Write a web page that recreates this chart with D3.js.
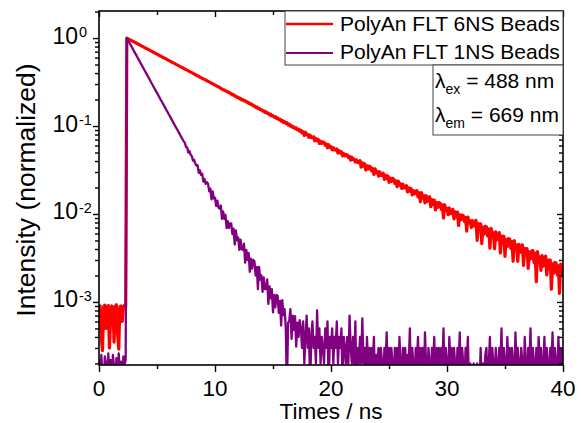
<!DOCTYPE html>
<html>
<head>
<meta charset="utf-8">
<script src="https://cdn.jsdelivr.net/npm/d3@7"></script>
<style>
  html, body { margin: 0; padding: 0; background: #fff; }
  svg { display: block; font-family: "Liberation Sans", Arial, sans-serif; }
</style>
</head>
<body>
<svg id="chart" width="581" height="423"></svg>
<script>
// Time-resolved fluorescence decays (TCSPC), normalized intensity, 0.1 ns channels.
const channelWidth = 0.1; // ns per channel, first channel at t = 0

const seriesNames = ["PolyAn FLT 6NS Beads", "PolyAn FLT 1NS Beads"];
const seriesColors = ["#ff0000", "#800080"];

// PolyAn FLT 6NS Beads (one row per ns after the pulse)
const intensity6NS = [
  8.6e-4, 9.0e-4, 4.0e-4, 2.8e-4, 8.8e-4, 9.2e-4, 5.0e-4, 8.5e-4, 9.1e-4, 3.0e-4, 6.5e-4, 9.0e-4,
  8.7e-4, 3.5e-4, 8.9e-4, 9.3e-4, 4.5e-4, 2.9e-4, 8.8e-4, 9.0e-4, 6.0e-4, 8.6e-4, 9.2e-4, 8.8e-4,
  1, .984, .968, .953, .937, .922, .907, .893, .878, .864,
  .850, .836, .823, .810, .797, .784, .771, .759, .747, .735,
  .723, .711, .700, .689, .678, .667, .656, .646, .635, .625,
  .615, .605, .595, .586, .576, .567, .558, .549, .540, .531,
  .523, .515, .506, .498, .490, .482, .474, .467, .459, .452,
  .445, .438, .431, .424, .417, .410, .404, .397, .391, .384,
  .378, .372, .366, .360, .354, .349, .343, .338, .332, .327,
  .322, .317, .312, .307, .302, .297, .292, .288, .283, .278,
  .275, .267, .265, .257, .258, .250, .249, .242, .243, .234,
  .234, .226, .227, .219, .219, .212, .212, .205, .206, .198,
  .200, .193, .194, .187, .188, .181, .182, .175, .176, .169,
  .170, .163, .165, .158, .159, .153, .154, .148, .149, .143,
  .145, .139, .140, .134, .136, .130, .131, .126, .128, .122,
  .124, .118, .120, .114, .116, .110, .112, .107, .109, .103,
  .105, .0995, .101, .0965, .0980, .0935, .0950, .0905, .0920, .0875,
  .0897, .0836, .0863, .0782, .0847, .0795, .0803, .0743, .0787, .0739,
  .0737, .0756, .0680, .0722, .0681, .0703, .0633, .0672, .0634, .0658,
  .0649, .0605, .0625, .0565, .0613, .0574, .0581, .0537, .0569, .0534,
  .0533, .0547, .0493, .0523, .0493, .0509, .0458, .0486, .0459, .0476,
  .0469, .0438, .0451, .0409, .0443, .0416, .0420, .0389, .0412, .0386,
  .0382, .0403, .0341, .0382, .0350, .0373, .0316, .0353, .0324, .0350,
  .0344, .0309, .0328, .0282, .0326, .0296, .0305, .0270, .0302, .0274,
  .0276, .0291, .0247, .0276, .0253, .0270, .0229, .0256, .0234, .0254,
  .0248, .0223, .0237, .0204, .0236, .0213, .0221, .0195, .0218, .0198,
  .0199, .0210, .0178, .0198, .0182, .0195, .0165, .0184, .0169, .0182,
  .0184, .0156, .0174, .0138, .0175, .0151, .0161, .0134, .0162, .0139,
  .0143, .0157, .0121, .0146, .0129, .0144, .0111, .0135, .0119, .0135,
  .0133, .0113, .0127, .0090, .0127, .0110, .0116, .0098, .0117, .0101,
  .0103, .0113, .0088, .0106, .0093, .0105, .0074, .0098, .0086, .0097,
  .0096, .0082, .0091, .0064, .0092, .0079, .0084, .0070, .0084, .0073,
  .00731, .00850, .00500, .00778, .00648, .00774, .00460, .00709, .00591, .00725,
  .00713, .00563, .00672, .00410, .00688, .00558, .00613, .00400, .00627, .00508,
  .00529, .00614, .00360, .00562, .00469, .00559, .00330, .00513, .00428, .00525,
  .00516, .00407, .00486, .00290, .00497, .00403, .00443, .00290, .00453, .00367,
  .00382, .00445, .00260, .00407, .00339, .00404, .00240, .00371, .00309, .00379,
  .00384, .00281, .00358, .00170, .00373, .00284, .00324, .00229, .00337, .00256,
  .00271, .00333, .00203, .00299, .00236, .00300, .00140, .00271, .00213, .00281,
  .00277, .00203, .00258, .00125, .00269, .00205, .00234
];

// PolyAn FLT 1NS Beads (one row per ns after the pulse)
const intensity1NS = [
  2.2e-4, 1.0e-4, 2.5e-4, 1.5e-4, 1.0e-4, 2.4e-4, 2.0e-4, 1.0e-4, 2.6e-4, 1.2e-4, 2.2e-4, 1.0e-4,
  2.5e-4, 1.8e-4, 1.0e-4, 2.3e-4, 1.0e-4, 2.6e-4, 1.5e-4, 2.1e-4, 1.0e-4, 2.4e-4, 1.9e-4, 2.2e-4,
  1, .946, .895, .847, .802, .759, .718, .679, .643, .608,
  .575, .544, .515, .487, .461, .436, .413, .391, .370, .350,
  .331, .313, .296, .280, .265, .251, .238, .225, .213, .201,
  .191, .181, .171, .162, .153, .145, .137, .130, .123, .116,
  .110, .104, .0984, .0932, .0882, .0835, .0790, .0747, .0707, .0669,
  .0644, .0577, .0573, .0498, .0520, .0469, .0456, .0405, .0414, .0374,
  .0355, .0359, .0293, .0314, .0278, .0286, .0233, .0250, .0220, .0229,
  .0221, .0181, .0194, .0147, .0181, .0150, .0153, .0123, .0142, .0118,
  .0115, .0125, .0088, .0107, .0088, .0098, .0069, .0083, .0069, .0078,
  .0078, .0059, .0068, .0045, .0065, .0050, .0054, .0039, .0051, .0040,
  .0039, .0046, .0028, .0039, .0030, .0036, .0022, .0031, .0024, .0030,
  .0029, .0020, .0025, .0014, .0025, .0018, .0020, .0013, .0019, .0014,
  .0014, .0018, .00095, .0015, .0011, .0014, .00076, .0012, .00087, .0012,
  .00117, .00075, .00103, .00054, .00105, .00071, .00083, .00051, .0001, .00058,
  .00061, .00083, .00038, .00070, .00048, .00069, .00031, .00058, .00040, .00062,
  .0005, .0003, .0006, .0002, .0004, .0007, .0003, .0005, .0001, .0004,
  .0006, .0003, .0004, .0002, .0008, .0003, .0005, .0002, .0004, .0003,
  .0002, .0005, .0003, .0006, .0001, .0004, .0003, .0005, .0002, .0004,
  .0003, .0006, .0002, .0004, .0003, .0005, .0001, .0004, .0003, .0002,
  .0004, .0002, .0007, .0003, .0002, .0004, .0002, .0006, .0001, .0003,
  .0002, .0004, .0002, .00065, .0002, .0003, .0001, .0004, .0002, .0003,
  .0001, .0003, .0002, .0004, .0001, .00025, .0002, .0003, .0001, .0003,
  .0002, .0001, .0003, .0002, .00045, .0001, .0003, .00015, .0003, .0002,
  .0001, .0003, .0002, .0003, .0001, .0004, .0002, .0001, .0003, .0002,
  .0003, .0001, .00025, .0002, .0005, .0001, .0003, .0002, .0001, .0003,
  .0002, .0004, .0001, .0003, .0002, .0003, .0001, .00045, .0002, .0001,
  .0003, .0002, .0001, .0003, .0002, .0004, .0001, .0003, .0002, .0003,
  .0001, .0003, .0002, .0005, .0001, .0003, .0002, .0001, .0004, .0002,
  .0003, .0001, .0003, .0002, .0001, .0003, .0002, .00045, .0001, .0003,
  .0002, .0001, .0003, .0002, .0004, .0001, .0002, .00015, .0001, .0002,
  .00015, .0001, .0002, .00015, .0001, .0003, .0001, .0002, .0001, .00025,
  .0003, .0001, .0002, .0004, .0001, .0003, .0002, .0001, .0003, .0002,
  .0001, .0003, .0002, .0005, .0001, .0003, .0002, .0001, .0004, .0002,
  .0003, .0001, .0003, .0002, .0001, .00045, .0002, .0003, .0001, .0002,
  .0003, .0002, .0001, .0004, .0002, .0001, .0003, .0002, .0005, .0001,
  .0003, .0002, .0001, .0003, .0001, .0004, .0002, .0003, .0001, .0002,
  .0004, .0001, .0003, .0002, .0001, .0003, .0002, .00045, .0001, .0003,
  .0002, .0001, .0004, .0002, .0003, .0001, .0003
];

const xMajorTicks = [0, 10, 20, 30, 40];
const xMinorTicks = [5, 15, 25, 35];
const yMajorTicks = [1, 0.1, 0.01, 0.001];
const yMajorExponents = ["0", "-1", "-2", "-3"];
const xTitle = "Times / ns";
const yTitle = "Intensity (normalized)";
const excitation = { sym: "λ", sub: "ex", rest: " = 488 nm" };
const emission = { sym: "λ", sub: "em", rest: " = 669 nm" };

const svg = d3.select("#chart");
const plot = { left: 99, right: 563, top: 11, bottom: 365 };

const x = d3.scaleLinear().domain([0, 40]).range([plot.left, plot.right]);
const y = d3.scaleLog().domain([1.92e-4, 2.03]).range([plot.bottom, plot.top]);

// minor log ticks: 2..9 per decade inside the domain
const yMinorTicks = [];
for (let e = -4; e <= 0; e++) {
  for (let m = 2; m <= 9; m++) {
    const v = m * Math.pow(10, e);
    if (v >= y.domain()[0] && v <= y.domain()[1]) yMinorTicks.push(v);
  }
}

// clip for data traces
svg.append("defs").append("clipPath").attr("id", "plotClip")
  .append("rect")
  .attr("x", plot.left).attr("y", plot.top)
  .attr("width", plot.right - plot.left).attr("height", plot.bottom - plot.top);

const line = d3.line()
  .x((d, i) => x(i * channelWidth))
  .y(d => y(d));

const traces = svg.append("g").attr("clip-path", "url(#plotClip)");
traces.append("path")
  .datum(intensity6NS)
  .attr("d", line)
  .attr("fill", "none")
  .attr("stroke", seriesColors[0])
  .attr("stroke-width", 3.2)
  .attr("stroke-linejoin", "round");
traces.append("path")
  .datum(intensity1NS)
  .attr("d", line)
  .attr("fill", "none")
  .attr("stroke", seriesColors[1])
  .attr("stroke-width", 2.3)
  .attr("stroke-linejoin", "round");

// axes
function styleAxis(g) {
  g.select(".domain").remove();
  g.selectAll(".tick line").attr("stroke", "#000").attr("stroke-width", 1.4);
  g.selectAll(".tick text").remove();
}
// bottom
svg.append("g").attr("transform", `translate(0,${plot.bottom})`)
  .call(d3.axisBottom(x).tickValues(xMajorTicks).tickSize(7)).call(styleAxis);
svg.append("g").attr("transform", `translate(0,${plot.bottom})`)
  .call(d3.axisBottom(x).tickValues(xMinorTicks).tickSize(4)).call(styleAxis);
// top (ticks inward)
svg.append("g").attr("transform", `translate(0,${plot.top})`)
  .call(d3.axisBottom(x).tickValues(xMajorTicks).tickSize(6)).call(styleAxis);
svg.append("g").attr("transform", `translate(0,${plot.top})`)
  .call(d3.axisBottom(x).tickValues(xMinorTicks).tickSize(4)).call(styleAxis);
// left
svg.append("g").attr("transform", `translate(${plot.left},0)`)
  .call(d3.axisLeft(y).tickValues(yMajorTicks).tickSize(6)).call(styleAxis);
svg.append("g").attr("transform", `translate(${plot.left},0)`)
  .call(d3.axisLeft(y).tickValues(yMinorTicks).tickSize(4)).call(styleAxis);
// right (ticks inward)
svg.append("g").attr("transform", `translate(${plot.right},0)`)
  .call(d3.axisLeft(y).tickValues(yMajorTicks).tickSize(6)).call(styleAxis);
svg.append("g").attr("transform", `translate(${plot.right},0)`)
  .call(d3.axisLeft(y).tickValues(yMinorTicks).tickSize(4)).call(styleAxis);

// frame
svg.append("rect")
  .attr("x", plot.left).attr("y", plot.top)
  .attr("width", plot.right - plot.left).attr("height", plot.bottom - plot.top)
  .attr("fill", "none").attr("stroke", "#000").attr("stroke-width", 1.6);

// x tick labels
svg.append("g").selectAll("text").data(xMajorTicks).join("text")
  .attr("x", d => x(d)).attr("y", plot.bottom + 31)
  .attr("text-anchor", "middle")
  .attr("font-size", 22.5).attr("fill", "#000")
  .text(d => d);

// y tick labels 10^n
const yLab = svg.append("g").selectAll("g").data(yMajorTicks).join("g");
yLab.append("text")
  .attr("x", 78).attr("y", d => y(d) + 5.5)
  .attr("text-anchor", "end")
  .attr("font-size", 23).attr("fill", "#000")
  .text("10");
yLab.append("text")
  .attr("x", 79).attr("y", d => y(d) - 1)
  .attr("font-size", 14.5).attr("fill", "#000")
  .text((d, i) => yMajorExponents[i]);

// axis titles
svg.append("text")
  .attr("x", (plot.left + plot.right) / 2).attr("y", 419)
  .attr("text-anchor", "middle")
  .attr("font-size", 22.5).attr("fill", "#000")
  .text(xTitle);
svg.append("text")
  .attr("transform", `translate(35,${(plot.top + plot.bottom) / 2 + 2}) rotate(-90)`)
  .attr("text-anchor", "middle")
  .attr("font-size", 26.5).attr("fill", "#000")
  .text(yTitle);

// legend box
const legend = { left: 285, top: plot.top, right: plot.right, bottom: 65 };
svg.append("rect")
  .attr("x", legend.left).attr("y", legend.top)
  .attr("width", legend.right - legend.left).attr("height", legend.bottom - legend.top)
  .attr("fill", "#fff").attr("stroke", "#444").attr("stroke-width", 1);
const legendRows = [{ lineY: 24, textY: 31 }, { lineY: 53, textY: 59 }];
legendRows.forEach((r, i) => {
  svg.append("line")
    .attr("x1", legend.left + 1).attr("x2", 333)
    .attr("y1", r.lineY).attr("y2", r.lineY)
    .attr("stroke", seriesColors[i]).attr("stroke-width", i === 0 ? 2.6 : 2);
  svg.append("text")
    .attr("x", 340).attr("y", r.textY)
    .attr("font-size", 21).attr("fill", "#000")
    .text(seriesNames[i]);
});

// wavelength box
const info = { left: 433, top: 65, right: plot.right, bottom: 135 };
svg.append("rect")
  .attr("x", info.left).attr("y", info.top)
  .attr("width", info.right - info.left).attr("height", info.bottom - info.top)
  .attr("fill", "#fff").attr("stroke", "#444").attr("stroke-width", 1);
[{ d: excitation, yb: 88 }, { d: emission, yb: 122 }].forEach(r => {
  const t = svg.append("text")
    .attr("x", 435).attr("y", r.yb)
    .attr("font-size", 21).attr("fill", "#000");
  t.append("tspan").text(r.d.sym);
  t.append("tspan").attr("font-size", 14).attr("dy", 6).text(r.d.sub);
  t.append("tspan").attr("dy", -6).text(r.d.rest);
});
</script>
</body>
</html>
